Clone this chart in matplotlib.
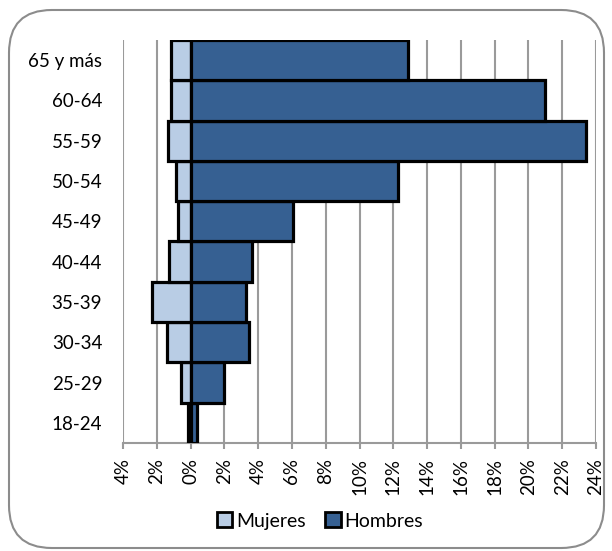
import matplotlib
matplotlib.use("Agg")
import matplotlib.pyplot as plt
from matplotlib.patches import FancyBboxPatch, Patch
from matplotlib.ticker import FixedLocator, FuncFormatter

grupos = ["18-24", "25-29", "30-34", "35-39", "40-44",
          "45-49", "50-54", "55-59", "60-64", "65 y más"]
mujeres = [0.16, 0.57, 1.38, 2.27, 1.28, 0.75, 0.89, 1.34, 1.14, 1.18]
hombres = [0.40, 2.00, 3.47, 3.27, 3.65, 6.07, 12.3, 23.4, 21.0, 12.9]
ticks = list(range(-4, 25, 2))

col_muj = "#B9CDE5"
col_hom = "#366092"
gris = "#9A9A9A"

plt.rcParams["font.family"] = ["Lato", "DejaVu Sans"]

fig = plt.figure(figsize=(6.12, 5.51), dpi=100)
ax = fig.add_axes([123 / 612, 1 - 443 / 551, (596 - 123) / 612, (443 - 40) / 551])

y = range(len(grupos))
ax.barh(y, [-v for v in mujeres], height=1.0, color=col_muj,
        edgecolor="black", linewidth=2.3, zorder=3, label="Mujeres")
ax.barh(y, hombres, height=1.0, color=col_hom,
        edgecolor="black", linewidth=2.3, zorder=3, label="Hombres")

ax.set_xlim(-4, 24)
ax.set_ylim(-0.5, len(grupos) - 0.5)
ax.set_yticks(list(y))
ax.set_yticklabels(grupos, fontsize=13.5)
ax.tick_params(axis="y", length=0, pad=15)

ax.xaxis.set_major_locator(FixedLocator(ticks))
ax.xaxis.set_major_formatter(FuncFormatter(lambda v, p: f"{abs(int(round(v)))}%"))
ax.tick_params(axis="x", length=4, width=1.5, color=gris, labelsize=13.5,
               labelrotation=90, pad=7)
ax.grid(axis="x", color=gris, linewidth=1.5, zorder=0)
ax.set_axisbelow(True)

for s in ["top", "right", "left"]:
    ax.spines[s].set_visible(False)
ax.spines["bottom"].set_color(gris)
ax.spines["bottom"].set_linewidth(1.5)

handles = [Patch(facecolor=col_muj, edgecolor="black", linewidth=2.0, label="Mujeres"),
           Patch(facecolor=col_hom, edgecolor="black", linewidth=2.0, label="Hombres")]
fig.legend(handles=handles, loc="center", bbox_to_anchor=(320 / 612, 1 - 521 / 551),
           ncol=2, frameon=False, fontsize=14, handlelength=0.8, handleheight=0.8,
           handletextpad=0.2, columnspacing=1.0)

border = FancyBboxPatch((9 / 612, 3 / 551), (604 - 9) / 612, (541 - 3) / 551,
                        boxstyle="round,pad=0,rounding_size=0.07",
                        transform=fig.transFigure, facecolor="none",
                        edgecolor="#8C8C8C", linewidth=1.5, zorder=10,
                        mutation_aspect=612 / 551)
fig.patches.append(border)

fig.savefig("out.png", dpi=100, facecolor="white")
